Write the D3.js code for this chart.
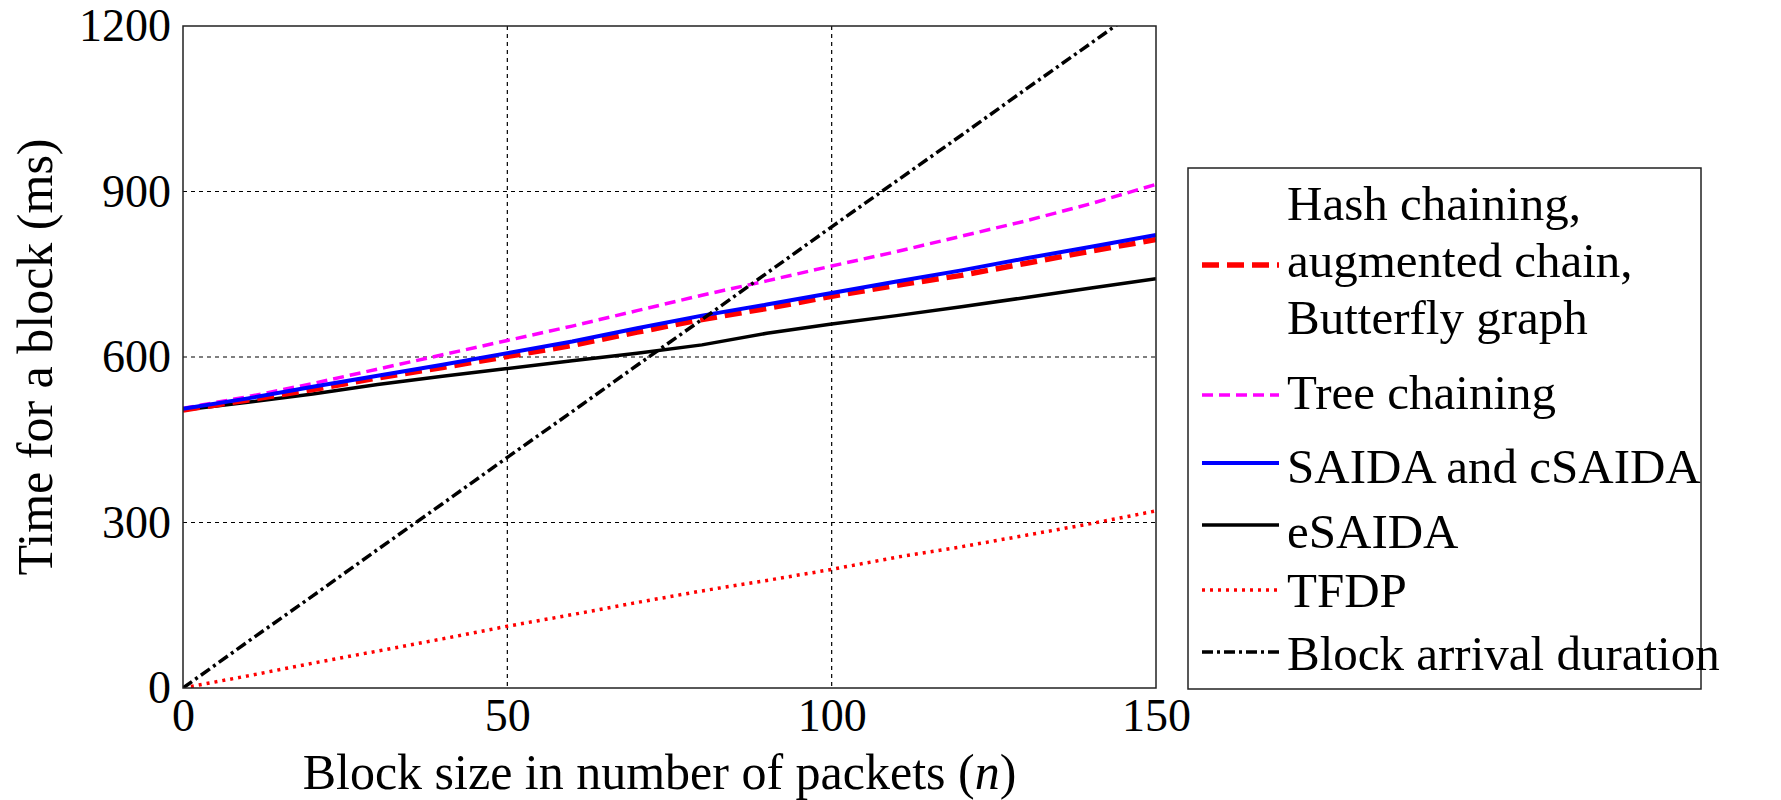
<!DOCTYPE html>
<html>
<head>
<meta charset="utf-8">
<script src="https://cdn.jsdelivr.net/npm/d3@7"></script>
<style>
  body { margin: 0; background: #fff; }
  svg text { font-family: "Liberation Serif", "DejaVu Serif", serif; fill: #000; }
</style>
</head>
<body>
<div id="chart"></div>
<script>
    'use strict';

    // block sizes (packets)
    var blockSizes = [0, 10, 20, 30, 40, 50, 60, 70, 80, 90, 100, 110, 120, 130, 140, 150];

    // time for a block (ms)
    var hashChaining = [504, 522, 541, 562, 581, 601, 621, 645, 668, 688, 710, 730, 748, 770, 792, 813];
    var treeChaining = [507, 528, 552, 578, 604, 630, 656, 684, 712, 738, 765, 791, 819, 847, 878, 913];
    var saida = [506, 525, 546, 566, 586, 607, 628, 652, 675, 695, 716, 737, 757, 779, 800, 821];
    var esaida = [504, 518, 533, 550, 565, 579, 593, 607, 622, 643, 660, 675, 691, 708, 725, 742];
    var tfdp = [0, 22, 45, 67, 89, 112, 133, 155, 176, 195, 215, 237, 256, 277, 298, 321];
    var blockArrival = [0, 84, 167, 251, 334, 418, 501, 585, 668, 752, 836, 919, 1002, 1086, 1169, 1253];

    var xTicks = [0, 50, 100, 150];
    var yTicks = [0, 300, 600, 900, 1200];

    var seriesNames = ["Hash chaining,|augmented chain,|Butterfly graph", "Tree chaining",
                       "SAIDA and cSAIDA", "eSAIDA", "TFDP", "Block arrival duration"];

    var series = [
        { name: seriesNames[0], values: hashChaining, color: "#ff0000", width: 5.5, dash: "17,8" },
        { name: seriesNames[1], values: treeChaining, color: "#ff00ff", width: 3.5, dash: "11,6" },
        { name: seriesNames[2], values: saida, color: "#0000ff", width: 4, dash: null },
        { name: seriesNames[3], values: esaida, color: "#000000", width: 3.5, dash: null },
        { name: seriesNames[4], values: tfdp, color: "#ff0000", width: 3.5, dash: "3,5" },
        { name: seriesNames[5], values: blockArrival, color: "#000000", width: 3.5, dash: "11,4,3,4" }
    ];
    // draw order so blue sits on top of the red dashed one
    var drawOrder = [3, 1, 0, 2, 4, 5];

    var width = 1781, height = 800;
    var margin = { left: 183, right: 1156, top: 26, bottom: 688 };

    var svg = d3.select("#chart").append("svg")
        .attr("width", width)
        .attr("height", height);

    var x = d3.scaleLinear().domain([0, 150]).range([margin.left, margin.right]);
    var y = d3.scaleLinear().domain([0, 1200]).range([margin.bottom, margin.top]);

    svg.append("defs").append("clipPath").attr("id", "plotclip")
        .append("rect")
        .attr("x", margin.left).attr("y", margin.top)
        .attr("width", margin.right - margin.left)
        .attr("height", margin.bottom - margin.top);

    // grid
    var grid = svg.append("g");
    grid.selectAll(".vgrid").data(xTicks.slice(1, -1)).enter().append("line")
        .attr("x1", function(d) { return x(d); }).attr("x2", function(d) { return x(d); })
        .attr("y1", margin.top).attr("y2", margin.bottom)
        .attr("stroke", "#000").attr("stroke-width", 1.2).attr("stroke-dasharray", "4,4");
    grid.selectAll(".hgrid").data(yTicks.slice(1, -1)).enter().append("line")
        .attr("y1", function(d) { return y(d); }).attr("y2", function(d) { return y(d); })
        .attr("x1", margin.left).attr("x2", margin.right)
        .attr("stroke", "#000").attr("stroke-width", 1.2).attr("stroke-dasharray", "4,4");

    // axes
    var xAxis = d3.axisBottom(x).tickValues(xTicks).tickFormat(d3.format("d")).tickSize(0).tickPadding(10);
    var yAxis = d3.axisLeft(y).tickValues(yTicks).tickFormat(d3.format("d")).tickSize(0).tickPadding(12);

    var gx = svg.append("g").attr("transform", "translate(0," + margin.bottom + ")").call(xAxis);
    var gy = svg.append("g").attr("transform", "translate(" + margin.left + ",0)").call(yAxis);
    [gx, gy].forEach(function(g) {
        g.select(".domain").remove();
        g.selectAll("text").style("font-size", "46px").attr("font-family", null);
    });

    // lines
    var line = d3.line()
        .x(function(d, i) { return x(blockSizes[i]); })
        .y(function(d) { return y(d); });

    var lines = svg.append("g").attr("clip-path", "url(#plotclip)");
    drawOrder.forEach(function(k) {
        var s = series[k];
        lines.append("path")
            .attr("d", line(s.values))
            .attr("fill", "none")
            .attr("stroke", s.color)
            .attr("stroke-width", s.width)
            .attr("stroke-dasharray", s.dash);
    });

    // frame
    svg.append("rect")
        .attr("x", margin.left).attr("y", margin.top)
        .attr("width", margin.right - margin.left)
        .attr("height", margin.bottom - margin.top)
        .attr("fill", "none").attr("stroke", "#222").attr("stroke-width", 1.5);

    // axis labels
    svg.append("text")
        .attr("x", (margin.left + margin.right) / 2 - 10)
        .attr("y", 789)
        .attr("text-anchor", "middle")
        .style("font-size", "50px")
        .html("Block size in number of packets (<tspan font-style='italic'>n</tspan>)");

    svg.append("text")
        .attr("transform", "translate(52," + (margin.top + margin.bottom) / 2 + ") rotate(-90)")
        .attr("text-anchor", "middle")
        .style("font-size", "50px")
        .text("Time for a block (ms)");

    // legend
    var legend = svg.append("g");
    legend.append("rect")
        .attr("x", 1188).attr("y", 168)
        .attr("width", 513).attr("height", 521)
        .attr("fill", "#fff").attr("stroke", "#222").attr("stroke-width", 1.5);

    var legendLineY = [265, 395, 463, 525, 590, 652];
    var legendTextY = [[220, 277, 334], [409], [483], [548], [607], [670]];

    series.forEach(function(s, i) {
        legend.append("line")
            .attr("x1", 1202).attr("x2", 1279)
            .attr("y1", legendLineY[i]).attr("y2", legendLineY[i])
            .attr("stroke", s.color)
            .attr("stroke-width", s.width)
            .attr("stroke-dasharray", s.dash);
        s.name.split("|").forEach(function(t, j) {
            legend.append("text")
                .attr("x", 1287)
                .attr("y", legendTextY[i][j])
                .style("font-size", "49px")
                .text(t);
        });
    });
</script>
</body>
</html>
